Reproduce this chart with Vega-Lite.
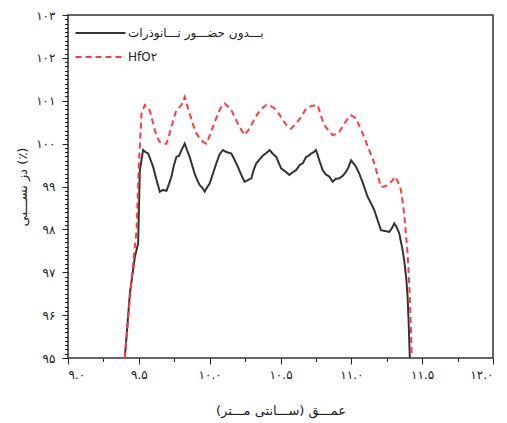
{
  "$schema": "https://vega.github.io/schema/vega-lite/v6.json",
  "width": 425,
  "height": 343,
  "autosize": {"type": "none"},
  "padding": {"left": 68, "top": 15, "right": 14, "bottom": 65},
  "background": "white",
  "config": {
    "view": {"stroke": "#333333", "strokeWidth": 1.5},
    "axis": {"domain": false, "grid": false, "ticks": true, "tickWidth": 1, "tickOpacity": 1, "tickColor": "#222222", "labelColor": "#222222", "labelFont": "DejaVu Sans", "labelFontSize": 12, "titleFont": "DejaVu Sans", "titleColor": "#222222", "titleFontWeight": "normal", "labelOverlap": false}
  },
  "datasets": {
    "black": [
      {"depth": 9.401, "dose": 95.0}, {"depth": 9.437, "dose": 96.51}, {"depth": 9.472, "dose": 97.36}, {"depth": 9.495, "dose": 97.67},
      {"depth": 9.507, "dose": 99.38}, {"depth": 9.53, "dose": 99.85}, {"depth": 9.548, "dose": 99.8}, {"depth": 9.566, "dose": 99.77},
      {"depth": 9.585, "dose": 99.6}, {"depth": 9.601, "dose": 99.46}, {"depth": 9.625, "dose": 99.15}, {"depth": 9.648, "dose": 98.88},
      {"depth": 9.67, "dose": 98.92}, {"depth": 9.695, "dose": 98.9}, {"depth": 9.712, "dose": 99.05}, {"depth": 9.73, "dose": 99.23},
      {"depth": 9.748, "dose": 99.5}, {"depth": 9.765, "dose": 99.69}, {"depth": 9.785, "dose": 99.72}, {"depth": 9.801, "dose": 99.85},
      {"depth": 9.824, "dose": 100.0}, {"depth": 9.84, "dose": 99.85}, {"depth": 9.859, "dose": 99.69}, {"depth": 9.876, "dose": 99.5},
      {"depth": 9.894, "dose": 99.3}, {"depth": 9.912, "dose": 99.15}, {"depth": 9.93, "dose": 99.03}, {"depth": 9.948, "dose": 98.97},
      {"depth": 9.965, "dose": 98.88}, {"depth": 9.982, "dose": 98.98}, {"depth": 10.0, "dose": 99.07}, {"depth": 10.023, "dose": 99.3},
      {"depth": 10.047, "dose": 99.54}, {"depth": 10.07, "dose": 99.75}, {"depth": 10.094, "dose": 99.85}, {"depth": 10.12, "dose": 99.8},
      {"depth": 10.153, "dose": 99.77}, {"depth": 10.176, "dose": 99.62}, {"depth": 10.199, "dose": 99.46}, {"depth": 10.222, "dose": 99.28},
      {"depth": 10.246, "dose": 99.11}, {"depth": 10.27, "dose": 99.15}, {"depth": 10.294, "dose": 99.19}, {"depth": 10.31, "dose": 99.38},
      {"depth": 10.329, "dose": 99.54}, {"depth": 10.35, "dose": 99.62}, {"depth": 10.375, "dose": 99.72}, {"depth": 10.4, "dose": 99.78},
      {"depth": 10.423, "dose": 99.85}, {"depth": 10.447, "dose": 99.76}, {"depth": 10.47, "dose": 99.69}, {"depth": 10.488, "dose": 99.55},
      {"depth": 10.505, "dose": 99.42}, {"depth": 10.535, "dose": 99.35}, {"depth": 10.563, "dose": 99.27}, {"depth": 10.585, "dose": 99.33},
      {"depth": 10.61, "dose": 99.38}, {"depth": 10.635, "dose": 99.5}, {"depth": 10.657, "dose": 99.54}, {"depth": 10.681, "dose": 99.69},
      {"depth": 10.7, "dose": 99.72}, {"depth": 10.716, "dose": 99.77}, {"depth": 10.735, "dose": 99.8}, {"depth": 10.751, "dose": 99.85},
      {"depth": 10.775, "dose": 99.6}, {"depth": 10.798, "dose": 99.38}, {"depth": 10.82, "dose": 99.28}, {"depth": 10.845, "dose": 99.23},
      {"depth": 10.868, "dose": 99.11}, {"depth": 10.89, "dose": 99.18}, {"depth": 10.915, "dose": 99.19}, {"depth": 10.94, "dose": 99.25},
      {"depth": 10.962, "dose": 99.34}, {"depth": 10.98, "dose": 99.45}, {"depth": 10.998, "dose": 99.61}, {"depth": 11.03, "dose": 99.48},
      {"depth": 11.056, "dose": 99.3}, {"depth": 11.085, "dose": 99.05}, {"depth": 11.115, "dose": 98.76}, {"depth": 11.14, "dose": 98.6},
      {"depth": 11.162, "dose": 98.45}, {"depth": 11.185, "dose": 98.22}, {"depth": 11.209, "dose": 97.98}, {"depth": 11.24, "dose": 97.96},
      {"depth": 11.268, "dose": 97.94}, {"depth": 11.29, "dose": 98.05}, {"depth": 11.303, "dose": 98.14}, {"depth": 11.32, "dose": 98.05},
      {"depth": 11.338, "dose": 97.91}, {"depth": 11.36, "dose": 97.55}, {"depth": 11.373, "dose": 97.28}, {"depth": 11.388, "dose": 96.85},
      {"depth": 11.397, "dose": 96.43}, {"depth": 11.405, "dose": 95.8}, {"depth": 11.413, "dose": 95.0}
    ],
    "red": [
      {"depth": 9.401, "dose": 95.0}, {"depth": 9.448, "dose": 96.82}, {"depth": 9.484, "dose": 97.98}, {"depth": 9.5, "dose": 99.5},
      {"depth": 9.519, "dose": 100.7}, {"depth": 9.542, "dose": 100.9}, {"depth": 9.56, "dose": 100.85}, {"depth": 9.577, "dose": 100.78},
      {"depth": 9.595, "dose": 100.55}, {"depth": 9.613, "dose": 100.31}, {"depth": 9.63, "dose": 100.15}, {"depth": 9.648, "dose": 100.04},
      {"depth": 9.67, "dose": 100.0}, {"depth": 9.695, "dose": 100.0}, {"depth": 9.712, "dose": 100.18}, {"depth": 9.73, "dose": 100.39},
      {"depth": 9.748, "dose": 100.6}, {"depth": 9.765, "dose": 100.78}, {"depth": 9.785, "dose": 100.84}, {"depth": 9.801, "dose": 100.9},
      {"depth": 9.824, "dose": 101.09}, {"depth": 9.84, "dose": 100.9}, {"depth": 9.859, "dose": 100.7}, {"depth": 9.882, "dose": 100.45},
      {"depth": 9.906, "dose": 100.24}, {"depth": 9.93, "dose": 100.12}, {"depth": 9.953, "dose": 100.04}, {"depth": 9.977, "dose": 100.0},
      {"depth": 10.0, "dose": 100.18}, {"depth": 10.023, "dose": 100.39}, {"depth": 10.047, "dose": 100.6}, {"depth": 10.07, "dose": 100.78},
      {"depth": 10.09, "dose": 100.9}, {"depth": 10.106, "dose": 100.94}, {"depth": 10.13, "dose": 100.86}, {"depth": 10.153, "dose": 100.78},
      {"depth": 10.176, "dose": 100.62}, {"depth": 10.199, "dose": 100.47}, {"depth": 10.222, "dose": 100.33}, {"depth": 10.246, "dose": 100.2},
      {"depth": 10.27, "dose": 100.3}, {"depth": 10.294, "dose": 100.43}, {"depth": 10.318, "dose": 100.58}, {"depth": 10.34, "dose": 100.7},
      {"depth": 10.37, "dose": 100.82}, {"depth": 10.399, "dose": 100.9}, {"depth": 10.43, "dose": 100.88}, {"depth": 10.458, "dose": 100.82},
      {"depth": 10.488, "dose": 100.7}, {"depth": 10.516, "dose": 100.55}, {"depth": 10.545, "dose": 100.42}, {"depth": 10.575, "dose": 100.35},
      {"depth": 10.61, "dose": 100.47}, {"depth": 10.646, "dose": 100.62}, {"depth": 10.681, "dose": 100.82}, {"depth": 10.72, "dose": 100.88},
      {"depth": 10.763, "dose": 100.9}, {"depth": 10.785, "dose": 100.65}, {"depth": 10.81, "dose": 100.43}, {"depth": 10.84, "dose": 100.3},
      {"depth": 10.868, "dose": 100.2}, {"depth": 10.89, "dose": 100.22}, {"depth": 10.915, "dose": 100.27}, {"depth": 10.935, "dose": 100.38},
      {"depth": 10.951, "dose": 100.47}, {"depth": 10.975, "dose": 100.58}, {"depth": 10.998, "dose": 100.66}, {"depth": 11.033, "dose": 100.59},
      {"depth": 11.055, "dose": 100.42}, {"depth": 11.08, "dose": 100.24}, {"depth": 11.1, "dose": 100.08}, {"depth": 11.115, "dose": 99.93},
      {"depth": 11.14, "dose": 99.74}, {"depth": 11.162, "dose": 99.54}, {"depth": 11.185, "dose": 99.27}, {"depth": 11.209, "dose": 98.99},
      {"depth": 11.232, "dose": 99.0}, {"depth": 11.256, "dose": 99.03}, {"depth": 11.285, "dose": 99.12}, {"depth": 11.31, "dose": 99.23},
      {"depth": 11.33, "dose": 99.1}, {"depth": 11.35, "dose": 98.92}, {"depth": 11.362, "dose": 98.65}, {"depth": 11.373, "dose": 98.37},
      {"depth": 11.385, "dose": 97.9}, {"depth": 11.397, "dose": 97.44}, {"depth": 11.405, "dose": 96.95}, {"depth": 11.413, "dose": 96.43},
      {"depth": 11.42, "dose": 95.7}, {"depth": 11.427, "dose": 95.0}
    ]
  },
  "layer": [
    {
      "data": {"name": "black"},
      "mark": {"type": "line", "strokeWidth": 2},
      "encoding": {
        "x": {"field": "depth", "type": "quantitative", "scale": {"domain": [9, 12], "nice": false, "zero": false},
          "axis": {"orient": "bottom", "values": [9, 9.25, 9.5, 9.75, 10, 10.25, 10.5, 10.75, 11, 11.25, 11.5, 11.75, 12], "format": ".1f", "labelOverlap": false,
            "tickSize": 3.5, "labelPadding": 7.5, "titlePadding": 24, "titleFontSize": 13,
            "labelExpr": "(datum.value * 2) % 1 !== 0 ? '' : replace(replace(replace(replace(replace(replace(replace(replace(replace(replace(datum.label,regexp('0','g'),'۰'),regexp('1','g'),'۱'),regexp('2','g'),'۲'),regexp('3','g'),'۳'),regexp('4','g'),'۴'),regexp('5','g'),'۵'),regexp('6','g'),'۶'),regexp('7','g'),'۷'),regexp('8','g'),'۸'),regexp('9','g'),'۹')",
            "title": "عمـــق (ســـانتی مـــتر)"}},
        "y": {"field": "dose", "type": "quantitative", "scale": {"domain": [95, 103], "nice": false, "zero": false},
          "axis": {"orient": "left", "values": [95, 95.1, 95.2, 95.3, 95.4, 95.5, 95.6, 95.7, 95.8, 95.9, 96, 96.1, 96.2, 96.3, 96.4, 96.5, 96.6, 96.7, 96.8, 96.9, 97, 97.1, 97.2, 97.3, 97.4, 97.5, 97.6, 97.7, 97.8, 97.9, 98, 98.1, 98.2, 98.3, 98.4, 98.5, 98.6, 98.7, 98.8, 98.9, 99, 99.1, 99.2, 99.3, 99.4, 99.5, 99.6, 99.7, 99.8, 99.9, 100, 100.1, 100.2, 100.3, 100.4, 100.5, 100.6, 100.7, 100.8, 100.9, 101, 101.1, 101.2, 101.3, 101.4, 101.5, 101.6, 101.7, 101.8, 101.9, 102, 102.1, 102.2, 102.3, 102.4, 102.5, 102.6, 102.7, 102.8, 102.9, 103],
            "format": ".0f", "labelOverlap": false,
            "tickSize": 3.5, "labelPadding": 9.5, "titlePadding": 6, "titleFontSize": 13,
            "labelExpr": "datum.value % 1 !== 0 ? '' : replace(replace(replace(replace(replace(replace(replace(replace(replace(replace(datum.label,regexp('0','g'),'۰'),regexp('1','g'),'۱'),regexp('2','g'),'۲'),regexp('3','g'),'۳'),regexp('4','g'),'۴'),regexp('5','g'),'۵'),regexp('6','g'),'۶'),regexp('7','g'),'۷'),regexp('8','g'),'۸'),regexp('9','g'),'۹')",
            "title": "دز نســـبی (٪)"}},
        "color": {"datum": "بـــدون حضـــور نـــانوذرات", "type": "nominal",
          "scale": {"domain": ["بـــدون حضـــور نـــانوذرات", "HfO۲"], "range": ["#333333", "#ff3b3b"]},
          "legend": {"title": null, "orient": "none", "legendX": 4, "legendY": 12, "padding": 0, "symbolType": "M-1,0H19", "symbolSize": 25, "symbolStrokeWidth": 2, "labelFont": "DejaVu Sans", "labelFontSize": 12, "labelColor": "#222222", "labelOffset": 44, "rowPadding": 12}},
        "strokeDash": {"datum": "بـــدون حضـــور نـــانوذرات", "type": "nominal",
          "scale": {"domain": ["بـــدون حضـــور نـــانوذرات", "HfO۲"], "range": [[1, 0], [6, 4]]},
          "legend": {"title": null, "orient": "none", "legendX": 4, "legendY": 12, "padding": 0, "symbolType": "M-1,0H19", "symbolSize": 25, "symbolStrokeWidth": 2, "labelFont": "DejaVu Sans", "labelFontSize": 12, "labelColor": "#222222", "labelOffset": 44, "rowPadding": 12}}
      }
    },
    {
      "data": {"name": "red"},
      "mark": {"type": "line", "strokeWidth": 2},
      "encoding": {
        "x": {"field": "depth", "type": "quantitative", "axis": null},
        "y": {"field": "dose", "type": "quantitative", "axis": null},
        "color": {"datum": "HfO۲", "type": "nominal"},
        "strokeDash": {"datum": "HfO۲", "type": "nominal"}
      }
    },
    {
      "data": {"name": "black"},
      "mark": {"type": "point", "opacity": 0},
      "encoding": {
        "x": {"field": "depth", "type": "quantitative", "axis": {"orient": "bottom", "offset": 0, "values": [9, 9.5, 10, 10.5, 11, 11.5, 12], "labels": false, "tickSize": 6, "title": null}},
        "y": {"field": "dose", "type": "quantitative", "axis": {"orient": "left", "offset": 0, "values": [95, 96, 97, 98, 99, 100, 101, 102, 103], "labels": false, "tickSize": 6, "title": null}}
      }
    }
  ],
  "resolve": {"axis": {"x": "independent", "y": "independent"}}
}
